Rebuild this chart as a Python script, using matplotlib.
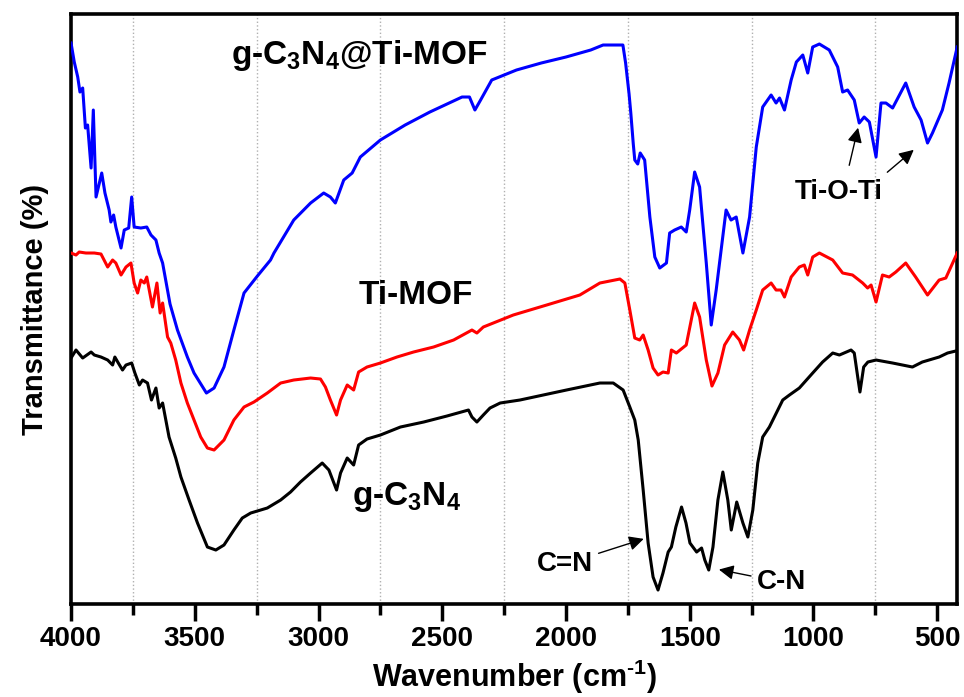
import matplotlib
matplotlib.use('Agg')
import matplotlib.pyplot as plt
from matplotlib.ticker import MultipleLocator

# FTIR spectra (wavenumber, transmittance in arbitrary units)
w_mof_c3n4 = [4000, 3987, 3973, 3964, 3953, 3942, 3933, 3919, 3910, 3899, 3876, 3863, 3846, 3839,
              3828, 3819, 3798, 3785, 3767, 3755, 3745, 3718, 3694, 3677, 3657, 3644, 3630, 3600,
              3570, 3530, 3503, 3453, 3422, 3382, 3342, 3301, 3247, 3194, 3180, 3100, 3032, 2979,
              2952, 2932, 2898, 2864, 2831, 2750, 2650, 2550, 2420, 2390, 2368, 2345, 2300, 2200,
              2100, 2000, 1900, 1850, 1770, 1759, 1745, 1738, 1728, 1722, 1710, 1700, 1682, 1661,
              1641, 1621, 1594,
              1581, 1561, 1534, 1514, 1500, 1480, 1460, 1433, 1413, 1393, 1353, 1333, 1312, 1285,
              1258, 1231, 1205, 1171, 1151, 1137, 1117, 1090, 1069, 1043, 1023, 1003, 976, 936,
              902, 882, 862, 835, 815, 795, 774, 747, 727, 707, 680, 627, 593, 565, 539, 519,
              479, 452, 419]
t_mof_c3n4 = [561, 542, 527, 512, 516, 476, 479, 436, 494, 407, 431, 411, 394, 382,
              389, 377, 356, 374, 376, 407, 377, 376, 377, 369, 364, 351, 341, 300,
              274, 247, 231, 211, 216, 237, 274, 311, 328, 344, 351, 384, 401, 411,
              407, 401, 424, 431, 447, 464, 479, 492, 507, 507, 494, 504, 524, 534,
              541, 547, 554, 559, 559, 541, 510, 491, 460, 444, 440, 451, 444, 387,
              347, 336, 341,
              371, 374, 377, 372, 394, 432, 417, 341, 279, 314, 394, 384, 387, 351,
              387, 457, 497, 509, 501, 506, 494, 524, 542, 549, 531, 557, 560, 554,
              537, 512, 514, 504, 481, 487, 482, 447, 501, 501, 496, 521, 497, 484, 461, 471,
              494, 521, 557]

w_mof = [4000, 3980, 3967, 3940, 3906, 3879, 3852, 3832, 3819, 3798, 3778, 3758, 3745, 3731,
         3718, 3704, 3694, 3671, 3653, 3640, 3630, 3610, 3597, 3577, 3556, 3530, 3503, 3476,
         3449, 3422, 3382, 3342, 3301, 3261, 3207, 3153, 3100, 3032, 2992, 2972, 2952, 2927,
         2911, 2884, 2858, 2838, 2804, 2750, 2683, 2616, 2535, 2454, 2380, 2360, 2334, 2213,
         2078, 1944, 1863, 1782, 1762, 1742, 1722, 1702, 1688, 1668, 1648, 1628, 1608, 1587,
         1574, 1554, 1514, 1480, 1460, 1433, 1410, 1386, 1359, 1326, 1299, 1282, 1258, 1231,
         1205, 1171, 1151, 1131, 1117, 1090, 1057, 1037, 1023, 1003, 976, 922, 882, 842,
         801, 781, 767, 747, 721, 694, 667, 627, 587, 539, 492, 465, 419]
t_mof = [351, 349, 352, 351, 351, 350, 337, 344, 341, 329, 337, 341, 321, 311,
         324, 321, 327, 297, 321, 291, 301, 267, 261, 244, 221, 201, 184, 167,
         156, 154, 164, 184, 197, 202, 211, 221, 224, 226, 225, 217, 204, 189,
         204, 219, 214, 232, 237, 241, 247, 252, 257, 264, 274, 271, 277, 289,
         299, 309, 321, 325, 321, 294, 266, 264, 269, 254, 236, 229, 232, 231,
         254, 251, 259, 301, 287, 244, 218, 231, 259, 272, 264, 254, 274, 294,
         314, 321, 314, 314, 307, 327, 337, 339, 329, 347, 351, 344, 331, 329,
         321, 316, 319, 302, 329, 327, 332, 341, 327, 309, 324, 326, 351]

w_c3n4 = [4000, 3980, 3953, 3919, 3906, 3879, 3852, 3832, 3823, 3809, 3792, 3778, 3755, 3742,
          3724, 3711, 3691, 3675, 3657, 3644, 3630, 3604, 3577, 3556, 3523, 3489, 3449, 3415,
          3382, 3342, 3308, 3274, 3207, 3153, 3113, 3073, 3032, 2985, 2958, 2927, 2911, 2884,
          2858, 2838, 2804, 2750, 2669, 2575, 2481, 2394, 2380, 2360, 2334, 2307, 2266, 2186,
          1998, 1863, 1809, 1769, 1742, 1722, 1708, 1688, 1668, 1648, 1628, 1608, 1587, 1574,
          1556, 1533, 1515, 1499, 1472, 1452, 1439, 1423, 1406, 1386, 1366, 1346, 1332, 1310,
          1285, 1265, 1245, 1225, 1205, 1178, 1124, 1097, 1057, 1003, 963, 922, 895, 848,
          835, 821, 812, 797, 780, 747, 680, 600, 560, 492, 458, 425]
t_c3n4 = [246, 254, 246, 252, 249, 247, 244, 239, 247, 241, 234, 239, 241, 231,
          219, 224, 221, 204, 216, 196, 201, 167, 146, 127, 104, 81, 57, 54,
          59, 74, 86, 91, 96, 104, 112, 122, 131, 141, 134, 114, 131, 146,
          139, 159, 165, 169, 177, 182, 188, 194, 187, 182, 189, 196, 201, 204,
          214, 221, 221, 214, 197, 184, 164, 114, 61, 27, 14, 31, 52, 57,
          77, 97, 81, 61, 52, 56, 44, 34, 57, 104, 132, 104, 74, 102,
          81, 67, 94, 141, 167, 177, 204, 209, 216, 231, 242, 251, 249, 254,
          251, 227, 212, 237, 242, 244, 241, 237, 242, 247, 251, 253]

plt.rcParams['font.family'] = ['Liberation Sans', 'DejaVu Sans']
plt.rcParams['font.weight'] = 'bold'
plt.rcParams['mathtext.fontset'] = 'custom'
plt.rcParams['mathtext.rm'] = 'Liberation Sans:bold'
plt.rcParams['mathtext.it'] = 'Liberation Sans:bold'
plt.rcParams['mathtext.bf'] = 'Liberation Sans:bold'

fig = plt.figure(figsize=(9.64, 6.97), dpi=100)
ax = fig.add_axes([0.0737, 0.1334, 0.919, 0.8465])

ax.plot(w_mof_c3n4, t_mof_c3n4, color='#0000FF', lw=2.2, zorder=3)
ax.plot(w_mof, t_mof, color='#FF0000', lw=2.2, zorder=3)
ax.plot(w_c3n4, t_c3n4, color='black', lw=2.2, zorder=3)

ax.set_xlim(4000, 420)
ax.set_ylim(0, 590)
ax.xaxis.set_major_locator(MultipleLocator(500))
ax.xaxis.set_minor_locator(MultipleLocator(250))
ax.set_yticks([])
ax.grid(which='minor', axis='x', linestyle=':', color='#b0b0b0', lw=1, zorder=0)
ax.tick_params(axis='x', which='major', direction='out', length=12, width=2.5, labelsize=20, pad=4)
ax.tick_params(axis='x', which='minor', direction='out', length=8, width=2.5)
for s in ax.spines.values():
    s.set_linewidth(2.6)

ax.set_xlabel('Wavenumber (cm$^{\\text{-}1}$)', fontsize=22, fontweight='bold', labelpad=4)
ax.set_ylabel('Transmittance (%)', fontsize=21, fontweight='bold', labelpad=16)

# curve labels
ax.text(3355, 549, 'g-C$_3$N$_4$@Ti-MOF', fontsize=24, fontweight='bold', ha='left', va='center')
ax.text(2605, 309, 'Ti-MOF', fontsize=24, fontweight='bold', ha='center', va='center')
ax.text(2863, 107, 'g-C$_3$N$_4$', fontsize=24, fontweight='bold', ha='left', va='center')

# band assignments
arrow = dict(arrowstyle='-|>', color='black', lw=1, mutation_scale=22)
ax.annotate('C=N', xy=(1675, 66), xytext=(2117, 40), fontsize=20, fontweight='bold',
            ha='left', va='center', arrowprops=arrow)
ax.annotate('C-N', xy=(1393, 35), xytext=(1230, 22), fontsize=20, fontweight='bold',
            ha='left', va='center', arrowprops=arrow)
ax.text(1077, 412, 'Ti-O-Ti', fontsize=20, fontweight='bold', ha='left', va='center')
ax.annotate('', xy=(817, 479), xytext=(858, 436), arrowprops=arrow)
ax.annotate('', xy=(586, 456), xytext=(710, 430), arrowprops=arrow)

fig.savefig('out.png', dpi=100)
